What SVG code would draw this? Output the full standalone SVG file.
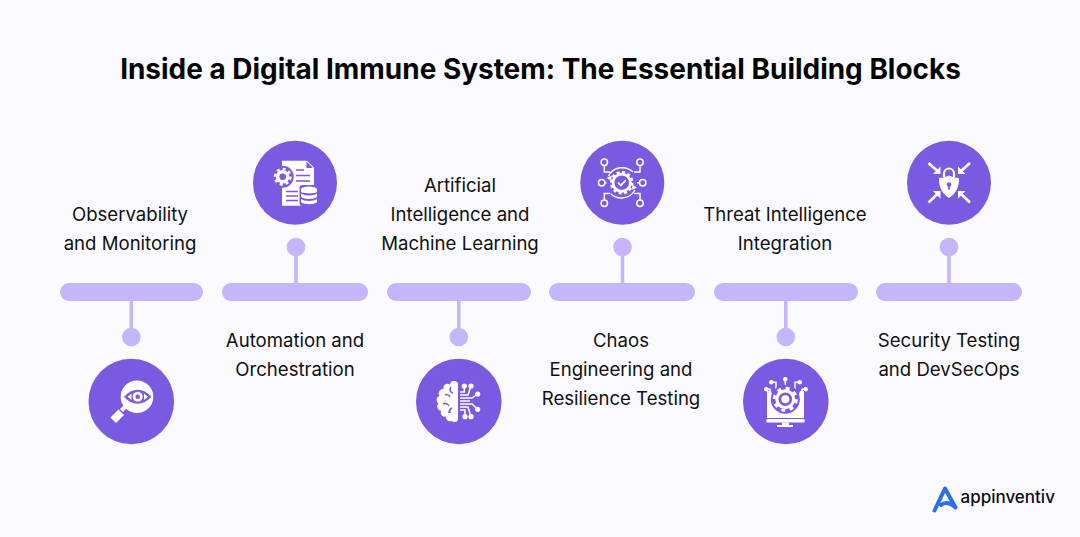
<svg xmlns="http://www.w3.org/2000/svg" width="1080" height="537" viewBox="0 0 1080 537">
<style>
.bg{fill:#fbfaff}
.t{font-family:"Inter","Liberation Sans",sans-serif;font-size:18.600px;font-weight:400;fill:#111;text-anchor:middle}
.h{font-family:"Inter","Liberation Sans",sans-serif;font-size:27.950px;font-weight:700;fill:#050505;text-anchor:middle}
.bar{fill:#c5b5fb}
.stem{stroke:#c5b5fb;stroke-width:3.5;fill:none}
.dot{fill:#c5b5fb}
.disc{fill:#7a5ae0}
.w{fill:#fff}
.p{fill:#7a5ae0}
.ln{stroke:#fff;stroke-width:1.500;fill:none}
.lp{stroke:#7a5ae0;stroke-width:1.500;fill:none}
</style>
<rect class="bg" width="1080" height="537"/>
<text class="h" x="540.500" y="79">Inside a Digital Immune System: The Essential Building Blocks</text>
<g id="connectors">
<path class="stem" d="M131.300 301V337M296 283V247M458.800 301V337M622.500 283V247M785.800 301V337M949 283V247"/>
</g>
<g id="node-observability">
<rect class="bar" x="60" y="283" width="143" height="18" rx="9"/>
<circle class="dot" cx="131.300" cy="337" r="9.300"/>
<circle class="disc" cx="131.300" cy="401.500" r="42.800"/>
<circle class="w" cx="137" cy="396.700" r="16.300"/>
<path class="w" d="M110.500 417.500l8-8 5.500 5.500-8 8zM120 409l4-4 3 3-4 4z"/>
<path class="p" d="M124 396.700C132 387.500 143 387.500 151.500 396.700C143 406 132 406 124 396.700z"/>
<path class="w" d="M127.500 396.700l4-3.300v6.600zM148 396.700l-4-3.300v6.600z"/>
<circle class="w" cx="137.700" cy="396.700" r="5"/>
<circle class="p" cx="137.700" cy="396.700" r="2.300"/>
<text class="t" x="130" y="221">Observability</text>
<text class="t" x="130" y="250">and Monitoring</text>
</g>
<g id="node-automation">
<rect class="bar" x="222" y="283" width="146" height="18" rx="9"/>
<circle class="dot" cx="296" cy="247" r="9.300"/>
<circle class="disc" cx="295" cy="182.800" r="42"/>
<path class="w" d="M282 160.700H307L314 167.500V188H306V205.700H282z"/>
<path class="p" d="M306.500 161.500V168H313z"/>
<path class="lp" d="M296 170H304M296 175.500H310M296 181H310M286 191.500H298M286 196H298M286 200.500H298"/>
<circle class="p" cx="282.700" cy="176.700" r="11"/>
<circle class="w" cx="282.700" cy="176.700" r="6.800"/>
<circle cx="282.700" cy="176.700" r="7.700" fill="none" stroke="#fff" stroke-width="2.600" stroke-dasharray="3 3"/>
<circle class="p" cx="282.700" cy="176.700" r="3.300"/>
<rect class="p" x="299.500" y="185" width="19" height="21" rx="3"/>
<path class="w" d="M301 189.500C301 185.500 317 185.500 317 189.500V191.500C317 194 301 194 301 191.500zM301 193.500C304 196 314 196 317 193.500V197C314 199.500 304 199.500 301 197zM301 199C304 201.500 314 201.500 317 199V201.500C317 205 301 205 301 201.500z"/>
<text class="t" x="295" y="347">Automation and</text>
<text class="t" x="295" y="376">Orchestration</text>
</g>
<g id="node-ai">
<rect class="bar" x="387" y="283" width="144" height="18" rx="9"/>
<circle class="dot" cx="458.800" cy="337" r="9.300"/>
<circle class="disc" cx="458.800" cy="401.500" r="42.800"/>
<path class="w" d="M458 383H451V420H458z"/>
<circle class="w" cx="454" cy="385" r="4"/><circle class="w" cx="447.500" cy="388" r="4.200"/><circle class="w" cx="443" cy="393.500" r="4.400"/><circle class="w" cx="440.800" cy="400" r="4.200"/><circle class="w" cx="441.500" cy="406.500" r="4.300"/><circle class="w" cx="445" cy="412.500" r="4.300"/><circle class="w" cx="450" cy="417" r="4.200"/><circle class="w" cx="454.500" cy="418.500" r="3.500"/><circle class="w" cx="450" cy="397" r="6"/><circle class="w" cx="449" cy="406" r="6"/>
<path class="lp" d="M451 387c-2 3-1 5 2 6M445 395c2-1 4 0 5 2M443 404c3-1 5 0 6 2M449 413c0-2 1-4 3-5" stroke-width="1.100"/>
<path class="ln" d="M460 392H464.300V386M460 395H468L471 386M460 398H472L477.700 394M460 401H470M460 404H472L477.700 409.300M460 407H468L471 416.700M460 410H465V416.700" stroke-width="1.300"/>
<circle class="w" cx="464.300" cy="386" r="2.600"/><circle class="w" cx="471" cy="386" r="2.600"/><circle class="w" cx="477.700" cy="394" r="2.600"/><circle class="w" cx="477.700" cy="409.300" r="2.600"/><circle class="w" cx="465" cy="416.700" r="2.600"/><circle class="w" cx="471" cy="416.700" r="2.600"/>
<text class="t" x="460" y="192">Artificial</text>
<text class="t" x="460" y="221">Intelligence and</text>
<text class="t" x="460" y="250">Machine Learning</text>
</g>
<g id="node-chaos">
<rect class="bar" x="549" y="283" width="146" height="18" rx="9"/>
<circle class="dot" cx="622.500" cy="247" r="9.300"/>
<circle class="disc" cx="622.300" cy="182.800" r="42"/>
<path class="ln" d="M604.300 165.500V172H610M640 165.500V172H634M605 182.700H606.500M639.500 182.700H637M604.300 200V193.500H610M640 200V193.500H634"/>
<path class="ln" d="M608.500 176A15.500 15.500 0 0 1 633 172M635 190A15.500 15.500 0 0 1 610.500 193.500"/>
<path class="w" d="M606.500 178l5.500-2.500-1 5zM637 187.500l-5.500 2.500 1-5z"/>
<circle cx="604.300" cy="162.300" r="3.200" class="ln"/><circle cx="640" cy="162.300" r="3.200" class="ln"/><circle cx="601.700" cy="182.700" r="3.200" class="ln"/><circle cx="642.700" cy="182.700" r="3.200" class="ln"/><circle cx="604.300" cy="203.300" r="3.200" class="ln"/><circle cx="640" cy="203.300" r="3.200" class="ln"/>
<circle class="w" cx="621.700" cy="182.700" r="10"/>
<circle cx="621.700" cy="182.700" r="10.500" fill="none" stroke="#fff" stroke-width="2.600" stroke-dasharray="3 2.500"/>
<circle class="p" cx="621.700" cy="182.700" r="7.300"/>
<path d="M618 182.700l2.800 2.800 4.800-5.200" fill="none" stroke="#fff" stroke-width="1.800"/>
<text class="t" x="621" y="347">Chaos</text>
<text class="t" x="621" y="376">Engineering and</text>
<text class="t" x="621" y="405">Resilience Testing</text>
</g>
<g id="node-threat">
<rect class="bar" x="714" y="283" width="144" height="18" rx="9"/>
<circle class="dot" cx="785.800" cy="337" r="9.300"/>
<circle class="disc" cx="785.800" cy="401.500" r="42.800"/>
<path class="w" d="M767 391H771L773 397H798L800 391H804V418H767z"/>
<rect class="w" x="766.300" y="419" width="38.500" height="3.500" rx="1.500"/>
<path class="w" d="M782 422.500H789V425H793V427H777V425H782z"/>
<path class="ln" d="M771.300 382.300H776V390L778 393M799.700 382.300H795V390L793 393M785.300 379.300V388M766.300 389.300H770V397M805.700 389.300H802V397"/>
<circle class="w" cx="785.300" cy="379.300" r="2.300"/><circle class="w" cx="771.300" cy="382.300" r="2.300"/><circle class="w" cx="799.700" cy="382.300" r="2.300"/><circle class="w" cx="766.300" cy="389.300" r="2.300"/><circle class="w" cx="805.700" cy="389.300" r="2.300"/>
<circle class="p" cx="785.300" cy="399.300" r="14.500"/>
<circle class="w" cx="785.300" cy="399.300" r="10"/>
<circle cx="785.300" cy="399.300" r="11" fill="none" stroke="#fff" stroke-width="3" stroke-dasharray="4 4.640"/>
<circle class="p" cx="785.300" cy="399.300" r="6.800"/>
<circle class="w" cx="785.300" cy="399.300" r="4"/>
<text class="t" x="785" y="221">Threat Intelligence</text>
<text class="t" x="785" y="250">Integration</text>
</g>
<g id="node-security">
<rect class="bar" x="876" y="283" width="146" height="18" rx="9"/>
<circle class="dot" cx="949" cy="247" r="9.300"/>
<circle class="disc" cx="949" cy="182.800" r="42"/>
<path d="M944 177V173.500A5 5 0 0 1 954 173.500V177" fill="none" stroke="#fff" stroke-width="2.200"/>
<path class="w" d="M949 175.500C952 177 956 178 959 178C959.500 187 955.500 194 949 198C942.500 194 938.500 187 939 178C942 178 946 177 949 175.500z"/>
<circle class="p" cx="949" cy="184.500" r="2.300"/>
<path class="p" d="M948 185h2v4.500h-2z"/>
<path d="M928.500 163L938 171.500M970 163L960.500 171.500M928.500 202.500L938 193.500M970 202.500L960.500 193.500" stroke="#fff" stroke-width="2.600" fill="none"/>
<path class="w" d="M940.500 174V166.500L933 174zM958 174V166.500L965.500 174zM940.500 191V198.500L933 191zM958 191V198.500L965.500 191z"/>
<text class="t" x="949" y="347">Security Testing</text>
<text class="t" x="949" y="376">and DevSecOps</text>
</g>
<g id="logo">
<path d="M934.500 510.500L945 488.500L955.500 507.500Q947 500 941 505" fill="none" stroke="#2b6fef" stroke-width="4" stroke-linejoin="round" stroke-linecap="round"/>
<text x="960.500" y="503" font-family="Inter,'Liberation Sans',sans-serif" font-size="17" font-weight="500" fill="#0c0c14">appinventiv</text>
</g>
</svg>
